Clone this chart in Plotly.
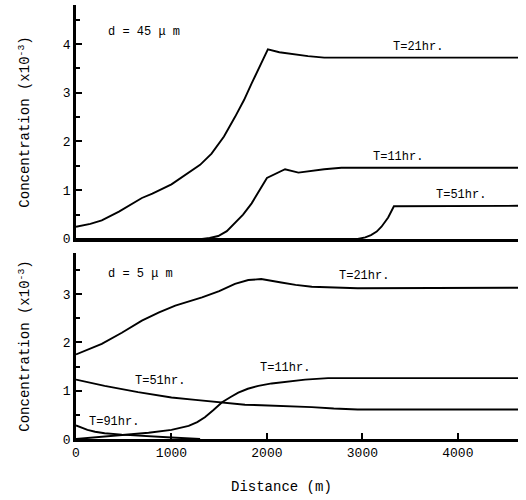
import plotly.graph_objects as go

# ---- Top panel: d = 45 um ----
top_t21_x = [0, 150, 270, 450, 690, 800, 1000, 1140, 1300, 1420, 1550, 1665, 1760, 1840, 1930, 2010, 2130, 2260, 2430, 2600, 4650]
top_t21_y = [0.25, 0.31, 0.38, 0.56, 0.84, 0.93, 1.12, 1.30, 1.52, 1.75, 2.10, 2.50, 2.85, 3.19, 3.55, 3.89, 3.83, 3.79, 3.75, 3.72, 3.72]
top_t11_x = [0, 1320, 1400, 1490, 1580, 1665, 1750, 1840, 1920, 2000, 2190, 2330, 2600, 2780, 4650]
top_t11_y = [0, 0, 0.02, 0.06, 0.16, 0.32, 0.50, 0.73, 0.98, 1.25, 1.43, 1.36, 1.43, 1.46, 1.46]
top_t51_x = [0, 2950, 3030, 3090, 3150, 3200, 3270, 3330, 4650]
top_t51_y = [0, 0, 0.03, 0.08, 0.15, 0.25, 0.44, 0.67, 0.68]

# ---- Bottom panel: d = 5 um ----
bot_t21_x = [0, 270, 480, 690, 870, 1040, 1320, 1500, 1665, 1805, 1940, 2050, 2150, 2300, 2470, 2950, 4650]
bot_t21_y = [1.75, 1.97, 2.20, 2.45, 2.62, 2.76, 2.93, 3.06, 3.21, 3.29, 3.31, 3.28, 3.24, 3.19, 3.15, 3.12, 3.13]
bot_t51_x = [0, 300, 650, 1000, 1250, 1490, 1650, 1770, 1940, 2260, 2470, 2700, 2950, 4650]
bot_t51_y = [1.23, 1.10, 0.97, 0.86, 0.81, 0.76, 0.73, 0.71, 0.70, 0.68, 0.66, 0.63, 0.61, 0.61]
bot_t11_x = [0, 250, 480, 760, 1000, 1100, 1180, 1270, 1350, 1440, 1530, 1620, 1700, 1800, 1910, 2050, 2220, 2400, 2640, 4650]
bot_t11_y = [0.0, 0.04, 0.09, 0.13, 0.19, 0.23, 0.27, 0.35, 0.45, 0.60, 0.76, 0.87, 0.96, 1.04, 1.10, 1.15, 1.19, 1.23, 1.26, 1.26]
bot_t91_x = [0, 60, 120, 200, 300, 480, 700, 1000, 1300]
bot_t91_y = [0.28, 0.23, 0.19, 0.15, 0.12, 0.09, 0.06, 0.03, 0.0]

x_ticks = [0, 1000, 2000, 3000, 4000]
top_y_ticks = [0, 1, 2, 3, 4]
bot_y_ticks = [0, 1, 2, 3]

FONT = "Liberation Mono"
line = dict(color="black", width=1.9)

fig = go.Figure()
for xs, ys in [(top_t21_x, top_t21_y), (top_t11_x, top_t11_y), (top_t51_x, top_t51_y)]:
    fig.add_trace(go.Scatter(x=xs, y=ys, mode="lines", line=line, xaxis="x", yaxis="y",
                             showlegend=False, hoverinfo="skip"))
for xs, ys in [(bot_t21_x, bot_t21_y), (bot_t51_x, bot_t51_y), (bot_t11_x, bot_t11_y), (bot_t91_x, bot_t91_y)]:
    fig.add_trace(go.Scatter(x=xs, y=ys, mode="lines", line=line, xaxis="x2", yaxis="y2",
                             showlegend=False, hoverinfo="skip"))

axis_common = dict(showline=True, linecolor="black", linewidth=2.5, showgrid=False,
                   zeroline=False, automargin=False,
                   tickfont=dict(family=FONT, size=13, color="black"))
ytitle = dict(text="Concentration (x10<sup>-3</sup>)", font=dict(family=FONT, size=14, color="black"),
              standoff=30)

fig.update_layout(
    width=526, height=500,
    margin=dict(l=76, r=8, t=5, b=61),
    paper_bgcolor="white", plot_bgcolor="white",
    font=dict(family=FONT, color="black", size=12),
    xaxis=dict(domain=[0, 1], anchor="y", range=[0, 4630], showticklabels=False, ticks="",
               **axis_common),
    yaxis=dict(domain=[0.461, 1], anchor="x", range=[0, 4.8], tickvals=top_y_ticks,
               ticks="inside", ticklen=6, tickwidth=2, tickcolor="black", title=ytitle,
               minor=dict(tickvals=[0.5, 1.5, 2.5, 3.5, 4.5], ticks="inside", ticklen=4,
                          tickwidth=1.5, tickcolor="black"),
               **axis_common),
    xaxis2=dict(domain=[0, 1], anchor="y2", range=[0, 4630], tickvals=x_ticks,
                ticks="inside", ticklen=6, tickwidth=2, tickcolor="black",
                **axis_common),
    yaxis2=dict(domain=[0, 0.4286], anchor="x2", range=[0, 3.85], tickvals=bot_y_ticks,
                ticks="inside", ticklen=6, tickwidth=2, tickcolor="black", title=ytitle,
                minor=dict(tickvals=[0.5, 1.5, 2.5, 3.5], ticks="inside", ticklen=4,
                           tickwidth=1.5, tickcolor="black"),
                **axis_common),
)

def lab(text, x, y, xr="x", yr="y", size=12):
    fig.add_annotation(text=text, x=x, y=y, xref=xr, yref=yr, showarrow=False,
                       xanchor="center", yanchor="middle",
                       font=dict(family=FONT, size=size, color="black"))

lab("d = 45 \u03bc m", 710, 4.25)
lab("T=21hr.", 3584, 3.94)
lab("T=11hr.", 3375, 1.68)
lab("T=51hr.", 4033, 0.90)

lab("d = 5 \u03bc m", 680, 3.42, "x2", "y2")
lab("T=21hr.", 3020, 3.38, "x2", "y2")
lab("T=11hr.", 2194, 1.46, "x2", "y2")
lab("T=51hr.", 878, 1.21, "x2", "y2")
lab("T=91hr.", 397, 0.36, "x2", "y2")

fig.add_annotation(text="Distance (m)", x=0.465, y=-0.111, xref="paper", yref="paper",
                   xanchor="center", yanchor="middle", showarrow=False,
                   font=dict(family=FONT, size=14, color="black"))

fig.write_html("out.html", config={"displayModeBar": False},
               post_script="document.body.style.margin='0';")
